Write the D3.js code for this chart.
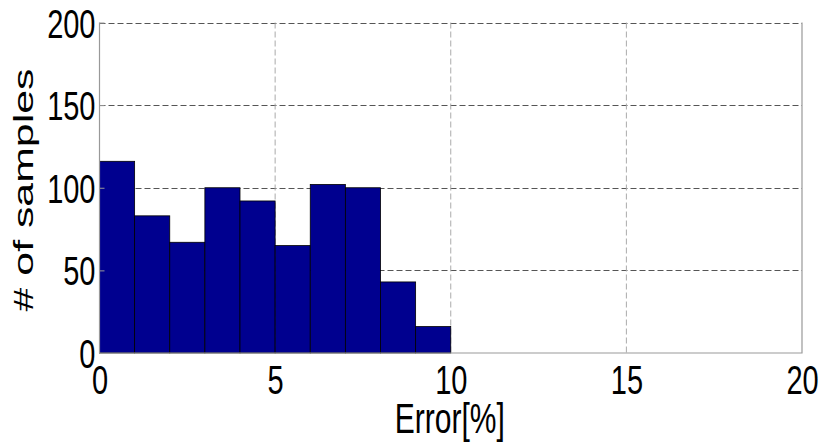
<!DOCTYPE html>
<html>
<head>
<meta charset="utf-8">
<script src="https://cdn.jsdelivr.net/npm/d3@7"></script>
<style>
  body { margin: 0; background: #fff; }
  text { font-family: "Liberation Sans", Arial, sans-serif; fill: #000; }
</style>
</head>
<body>
<div id="chart"></div>
<script>
// histogram bins (left edge, width 1) and counts
var binStart = [0, 1, 2, 3, 4, 5, 6, 7, 8, 9];
var counts = [116, 83, 67, 100, 92, 65, 102, 100, 43, 16];
var xTicks = [0, 5, 10, 15, 20];
var yTicks = [0, 50, 100, 150, 200];

var W = 822, H = 442;
var pL = 99.5, pR = 802, pT = 22.5, pB = 353;
var stretch = 1.4;

var svg = d3.select("#chart").append("svg")
    .attr("width", W).attr("height", H);

var x = d3.scaleLinear().domain([0, 20]).range([pL, pR]);
var y = d3.scaleLinear().domain([0, 200]).range([pB, pT]);

// grid
svg.selectAll(".hgrid").data(yTicks.filter(function(d){ return d > 0; }))
  .enter().append("line")
    .attr("x1", pL).attr("x2", pR)
    .attr("y1", function(d){ return Math.round(y(d)) + 0.5; })
    .attr("y2", function(d){ return Math.round(y(d)) + 0.5; })
    .attr("stroke", "#555").attr("stroke-dasharray", "6,3");
svg.selectAll(".vgrid").data(xTicks.filter(function(d){ return d > 0 && d < 20; }))
  .enter().append("line")
    .attr("x1", function(d){ return x(d); }).attr("x2", function(d){ return x(d); })
    .attr("y1", pT).attr("y2", pB)
    .attr("stroke", "#aaa").attr("stroke-dasharray", "6,3");

// bars
svg.selectAll("rect.bar").data(counts)
  .enter().append("rect")
    .attr("class", "bar")
    .attr("x", function(d, i){ return x(binStart[i]); })
    .attr("width", function(d, i){ return x(binStart[i] + 1) - x(binStart[i]); })
    .attr("y", function(d){ return y(d); })
    .attr("height", function(d){ return pB - y(d); })
    .attr("fill", "#00008f")
    .attr("stroke", "#000")
    .attr("stroke-width", 0.8);

// frame: left, bottom, right solid grey
svg.append("path")
    .attr("d", "M" + pL + "," + pT + "V" + pB + "H" + pR + "V" + pT)
    .attr("fill", "none").attr("stroke", "#999").attr("stroke-width", 1.2);

// axes
var yAxis = d3.axisLeft(y).tickValues(yTicks).tickSize(-5).tickPadding(0).tickFormat(d3.format("d"));
var gy = svg.append("g").attr("transform", "translate(" + pL + ",0)").call(yAxis);
gy.select(".domain").remove();
gy.selectAll(".tick line").attr("stroke", "#999");
gy.selectAll(".tick text")
    .attr("x", null).attr("y", 0).attr("dy", "0.36em")
    .attr("transform", "translate(-4,0) scale(1," + stretch + ")")
    .style("font-size", "29px").attr("text-anchor", "end");

var xAxis = d3.axisBottom(x).tickValues(xTicks).tickSize(0).tickPadding(0);
var gx = svg.append("g").attr("transform", "translate(0," + pB + ")").call(xAxis);
gx.select(".domain").remove();
gx.selectAll(".tick text")
    .attr("y", 0).attr("dy", "0.71em")
    .attr("transform", "translate(0,12) scale(1," + stretch + ")")
    .style("font-size", "29px");

// axis titles
svg.append("text")
    .attr("transform", "translate(" + ((pL + pR) / 2 - 1) + ",433) scale(1," + stretch + ")")
    .attr("text-anchor", "middle")
    .style("font-size", "30px")
    .text("Error[%]");

svg.append("text")
    .attr("transform", "translate(33,190) rotate(-90) scale(1.53,1)")
    .attr("text-anchor", "middle")
    .style("font-size", "28px")
    .text("# of samples");
</script>
</body>
</html>
